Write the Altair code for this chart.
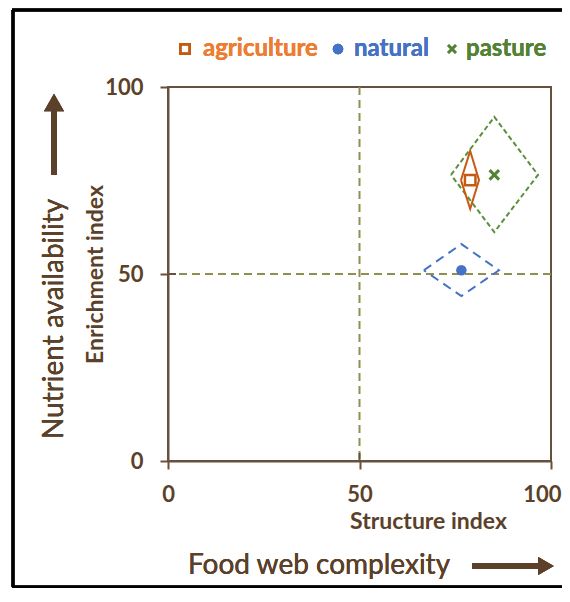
import altair as alt
import pandas as pd

# ---- data ----
land_use = ["agriculture", "natural", "pasture"]
si_mean = [78.9, 76.6, 85.2]     # Structure index (mean)
ei_mean = [75.1, 51.0, 76.5]     # Enrichment index (mean)
si_low = [76.5, 66.8, 73.9]
si_high = [81.2, 86.4, 96.6]
ei_low = [67.4, 44.1, 61.2]
ei_high = [82.9, 58.0, 92.0]
tick_values = [0, 50, 100]
ref_values = [50]

FONT = "Lato"
BROWN = "#5b4129"
AXC = "#65513c"
REF = "#8f8f4f"
line_col = {"agriculture": "#c55a11", "natural": "#4472c4", "pasture": "#5a8f3c"}
text_col = {"agriculture": "#ed7d31", "natural": "#4472c4", "pasture": "#548235"}
dash = {"agriculture": [1, 0], "natural": [9, 6], "pasture": [5, 3]}

W, H = 383, 374

# diamond outline table (left, top, right, bottom, back to left)
rows = []
for i, lu in enumerate(land_use):
    pts = [(si_low[i], ei_mean[i]), (si_mean[i], ei_high[i]), (si_high[i], ei_mean[i]),
           (si_mean[i], ei_low[i]), (si_low[i], ei_mean[i])]
    for k, (a, b) in enumerate(pts):
        rows.append({"land": lu, "x": a, "y": b, "o": k})
dia = pd.DataFrame(rows)
means = pd.DataFrame({"land": land_use, "x": si_mean, "y": ei_mean})
refs = pd.DataFrame({"x": ref_values, "y": ref_values})
ticks = pd.DataFrame({"x": tick_values, "y": tick_values})

xs = alt.Scale(domain=[0, 100], nice=False, zero=False)
ys = alt.Scale(domain=[0, 100], nice=False, zero=False)

last_x = {"test": "datum.value >= 100"}
xaxis = alt.Axis(values=tick_values, grid=False, tickSize=8, tickWidth=2, tickColor=AXC,
                 domainColor=AXC, domainWidth=2, labelFont=FONT, labelFontSize=22,
                 labelFontWeight="bold", labelColor=BROWN, labelPadding=15, labelFlush=False,
                 labelOverlap=False,
                 labelAlign={"condition": {**last_x, "value": "right"}, "value": "center"},
                 labelOffset={"condition": {**last_x, "value": 10}, "value": 0},
                 title="Structure index", titleFont=FONT, titleFontSize=23, titleFontWeight="bold",
                 titleColor=BROWN, titleX=260, titleY=60, titleBaseline="middle")
yaxis = alt.Axis(values=tick_values, grid=False, tickSize=8, tickWidth=2, tickColor=AXC,
                 domainColor=AXC, domainWidth=2, labelFont=FONT, labelFontSize=22,
                 labelFontWeight="bold", labelColor=BROWN, labelPadding=17, labelFlush=False,
                 labelOverlap=False,
                 title="Enrichment index", titleFont=FONT, titleFontSize=23, titleFontWeight="bold",
                 titleColor=BROWN, titleX=-73, titleY=187, titleBaseline="middle")

X = alt.X("x:Q", scale=xs, axis=xaxis)
Y = alt.Y("y:Q", scale=ys, axis=yaxis)

layers = []
# reference dashed lines
layers.append(alt.Chart(refs).mark_rule(color=REF, strokeWidth=2, strokeDash=[8, 5]).encode(x=X))
layers.append(alt.Chart(refs).mark_rule(color=REF, strokeWidth=2, strokeDash=[8, 5]).encode(y=Y))

# inward tick halves
layers.append(alt.Chart(ticks).mark_rule(color=AXC, strokeWidth=2).encode(
    x=X, y=alt.value(H), y2=alt.value(H - 8)))
layers.append(alt.Chart(ticks).mark_rule(color=AXC, strokeWidth=2).encode(
    y=Y, x=alt.value(0), x2=alt.value(8)))

# diamonds
for lu in ["pasture", "natural", "agriculture"]:
    layers.append(alt.Chart(dia).transform_filter(alt.datum.land == lu).mark_line(
        color=line_col[lu], strokeWidth=2, strokeDash=dash[lu]).encode(x=X, y=Y, order="o:Q"))

# mean markers
XPATH = "M-1,-1L1,1M-1,1L1,-1"
layers.append(alt.Chart(means).transform_filter(alt.datum.land == "agriculture").mark_point(
    shape="square", filled=False, color=line_col["agriculture"], strokeWidth=2.5, size=110,
    opacity=1).encode(x=X, y=Y))
layers.append(alt.Chart(means).transform_filter(alt.datum.land == "natural").mark_point(
    shape="circle", filled=True, color=line_col["natural"], size=110, opacity=1).encode(x=X, y=Y))
layers.append(alt.Chart(means).transform_filter(alt.datum.land == "pasture").mark_point(
    shape=XPATH, filled=False, color=text_col["pasture"], strokeWidth=3, size=90,
    opacity=1).encode(x=X, y=Y))

# legend (top)
LY = -38
layers.append(alt.Chart(means).mark_point(shape="square", filled=False, color=line_col["agriculture"],
    strokeWidth=2.5, size=90, opacity=1).encode(x=alt.value(17), y=alt.value(LY)))
layers.append(alt.Chart(means).mark_point(shape="circle", filled=True, color=line_col["natural"],
    size=110, opacity=1).encode(x=alt.value(170), y=alt.value(LY)))
layers.append(alt.Chart(means).mark_point(shape=XPATH, filled=False, color=text_col["pasture"],
    strokeWidth=2.5, size=60, opacity=1).encode(x=alt.value(284), y=alt.value(LY)))
leg_x = {"agriculture": 35, "natural": 186, "pasture": 298}
for lu in land_use:
    layers.append(alt.Chart(means).mark_text(text=lu, font=FONT, fontSize=24, fontWeight="bold",
        color=text_col[lu], align="left", baseline="alphabetic").encode(
        x=alt.value(leg_x[lu]), y=alt.value(-31)))

# outer descriptive labels + arrows
layers.append(alt.Chart(means).mark_text(text="Nutrient availability", font=FONT, fontSize=28,
    color=BROWN, angle=270, align="center", baseline="middle").encode(
    x=alt.value(-113), y=alt.value(232)))
layers.append(alt.Chart(means).mark_text(text="Food web complexity", font=FONT, fontSize=28,
    color=BROWN, align="center", baseline="middle").encode(x=alt.value(151), y=alt.value(479)))
layers.append(alt.Chart(means).mark_rule(color=BROWN, strokeWidth=6).encode(
    x=alt.value(-114), y=alt.value(88), y2=alt.value(24)))
layers.append(alt.Chart(means).mark_point(shape="triangle-up", filled=True, color=BROWN,
    size=400, opacity=1).encode(x=alt.value(-114), y=alt.value(15.5)))
layers.append(alt.Chart(means).mark_rule(color=BROWN, strokeWidth=6).encode(
    x=alt.value(304), x2=alt.value(372), y=alt.value(479)))
layers.append(alt.Chart(means).mark_point(shape="triangle-right", filled=True, color=BROWN,
    size=324, opacity=1).encode(x=alt.value(378), y=alt.value(479)))

# outer frame (left, top, bottom edges; right edge lies off the page)
layers.append(alt.Chart(means).mark_rule(color="black", strokeWidth=3).encode(
    x=alt.value(-155), y=alt.value(-77), y2=alt.value(500)))
layers.append(alt.Chart(means).mark_rule(color="black", strokeWidth=3).encode(
    x=alt.value(-156), x2=alt.value(420), y=alt.value(-77)))
layers.append(alt.Chart(means).mark_rule(color="black", strokeWidth=3).encode(
    x=alt.value(-156), x2=alt.value(420), y=alt.value(500)))

chart = alt.layer(*layers).properties(
    width=W, height=H,
    autosize=alt.AutoSizeParams(type="none"),
    padding={"left": 160, "top": 79, "right": 11, "bottom": 127},
).configure_view(stroke=AXC, strokeWidth=2)

chart.save("out.html", embed_options={"renderer": "svg", "actions": False})
